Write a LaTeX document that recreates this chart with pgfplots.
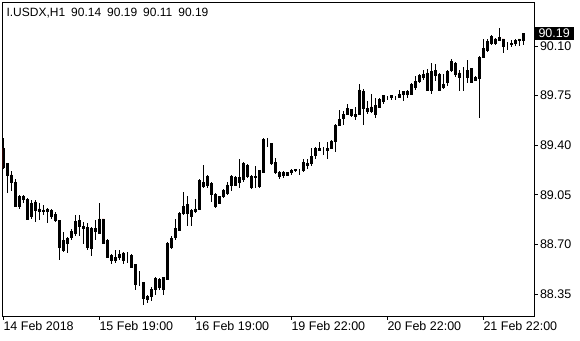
\documentclass[border=0pt]{standalone}
\usepackage{fontspec}
\setmainfont{Liberation Sans}
\usepackage{pgfplots}
\usepackage{pgfplotstable}
\pgfplotsset{compat=1.18}
\definecolor{bull}{RGB}{154,205,50}
\definecolor{bear}{RGB}{220,20,20}
\pgfplotstableread{
x O H L C
0 89.38 89.45 89.23 89.24
1 89.27 89.27 89.06 89.19
2 89.19 89.22 89.08 89.14
3 89.14 89.16 88.97 88.97
4 88.97 89.05 88.95 89.04
5 89.04 89.05 88.99 89.02
6 89.02 89.03 88.87 88.88
7 88.90 89.01 88.88 88.99
8 89.00 89.01 88.86 88.94
9 88.95 88.99 88.87 88.93
10 88.94 88.98 88.91 88.93
11 88.93 88.96 88.85 88.95
12 88.94 88.95 88.88 88.90
13 88.91 88.93 88.86 88.87
14 88.87 88.87 88.59 88.68
15 88.66 88.79 88.65 88.73
16 88.71 88.75 88.64 88.74
17 88.75 88.81 88.73 88.79
18 88.78 88.91 88.76 88.86
19 88.87 88.91 88.76 88.83
20 88.81 88.86 88.70 88.83
21 88.82 88.85 88.66 88.68
22 88.67 88.82 88.62 88.81
23 88.81 88.87 88.73 88.79
24 88.78 88.99 88.78 88.88
25 88.88 88.88 88.70 88.71
26 88.73 88.74 88.61 88.61
27 88.62 88.63 88.56 88.59
28 88.61 88.66 88.57 88.59
29 88.61 88.66 88.59 88.63
30 88.64 88.65 88.56 88.59
31 88.61 88.65 88.57 88.61
32 88.62 88.63 88.54 88.54
33 88.56 88.56 88.38 88.42
34 88.42 88.51 88.41 88.42
35 88.43 88.43 88.27 88.32
36 88.31 88.34 88.29 88.33
37 88.33 88.40 88.30 88.38
38 88.38 88.47 88.34 88.46
39 88.45 88.46 88.38 88.40
40 88.38 88.47 88.34 88.47
41 88.45 88.72 88.45 88.71
42 88.68 88.76 88.67 88.74
43 88.75 88.88 88.73 88.81
44 88.80 88.93 88.80 88.92
45 88.92 89.07 88.91 88.97
46 88.98 89.04 88.83 88.92
47 88.90 88.95 88.83 88.94
48 88.93 89.02 88.92 88.95
49 88.95 89.16 88.94 89.15
50 89.14 89.26 89.10 89.11
51 89.12 89.19 89.10 89.18
52 89.13 89.14 89.00 89.05
53 89.05 89.06 88.96 88.97
54 88.99 89.04 88.99 89.04
55 89.04 89.09 89.03 89.08
56 89.06 89.14 89.05 89.12
57 89.12 89.19 89.08 89.18
58 89.17 89.18 89.11 89.12
59 89.14 89.30 89.10 89.17
60 89.16 89.28 89.14 89.27
61 89.26 89.27 89.17 89.18
62 89.18 89.19 89.09 89.10
63 89.17 89.25 89.10 89.18
64 89.11 89.22 89.10 89.22
65 89.21 89.45 89.21 89.44
66 89.42 89.45 89.39 89.42
67 89.41 89.41 89.26 89.27
68 89.28 89.31 89.20 89.21
69 89.21 89.22 89.16 89.18
70 89.19 89.22 89.17 89.21
71 89.19 89.21 89.18 89.21
72 89.21 89.23 89.19 89.22
73 89.23 89.23 89.21 89.22
74 89.23 89.23 89.19 89.23
75 89.22 89.30 89.21 89.28
76 89.26 89.30 89.23 89.27
77 89.27 89.38 89.25 89.32
78 89.33 89.39 89.30 89.38
79 89.36 89.42 89.36 89.38
80 89.37 89.39 89.33 89.37
81 89.36 89.42 89.30 89.38
82 89.38 89.44 89.37 89.43
83 89.43 89.55 89.35 89.54
84 89.54 89.65 89.54 89.58
85 89.59 89.64 89.54 89.62
86 89.62 89.69 89.61 89.66
87 89.65 89.65 89.60 89.61
88 89.60 89.67 89.58 89.62
89 89.62 89.83 89.61 89.79
90 89.78 89.80 89.54 89.66
91 89.64 89.71 89.62 89.66
92 89.67 89.76 89.63 89.64
93 89.62 89.73 89.59 89.68
94 89.67 89.73 89.66 89.72
95 89.71 89.75 89.69 89.75
96 89.74 89.75 89.72 89.74
97 89.74 89.75 89.72 89.75
98 89.74 89.75 89.72 89.74
99 89.74 89.79 89.73 89.76
100 89.76 89.78 89.71 89.78
101 89.76 89.79 89.73 89.78
102 89.76 89.84 89.76 89.83
103 89.81 89.89 89.79 89.85
104 89.85 89.90 89.84 89.89
105 89.90 89.93 89.86 89.88
106 89.79 89.94 89.79 89.91
107 89.79 89.98 89.76 89.92
108 89.93 89.97 89.85 89.89
109 89.90 89.91 89.79 89.79
110 89.81 89.90 89.80 89.83
111 89.84 89.93 89.82 89.92
112 89.93 90.01 89.92 89.99
113 89.98 89.99 89.88 89.90
114 89.91 89.93 89.78 89.88
115 89.87 89.95 89.78 89.87
116 89.88 90.00 89.84 89.93
117 89.94 89.94 89.84 89.84
118 89.86 89.89 89.85 89.88
119 89.87 90.03 89.59 90.02
120 90.02 90.15 90.02 90.08
121 90.07 90.15 90.06 90.13
122 90.12 90.18 90.11 90.17
123 90.15 90.16 90.11 90.12
124 90.14 90.23 90.14 90.16
125 90.15 90.15 90.05 90.10
126 90.11 90.13 90.07 90.11
127 90.11 90.14 90.09 90.12
128 90.12 90.15 90.10 90.14
129 90.14 90.15 90.10 90.15
130 90.14 90.19 90.11 90.19
}\ohlc

\begin{document}
\begin{tikzpicture}
\path[use as bounding box] (-2.7pt,-24pt) rectangle (577.3pt,316pt);
\begin{axis}[
  scale only axis, width=531.6pt, height=313.5pt,
  at={(0pt,0pt)}, anchor=south west,
  xmin=-0.15, xmax=132.75, ymin=88.195, ymax=90.407,
  ybar stacked, bar width=2.3pt,
  axis line style={line width=0.9pt},
  tick align=outside, major tick length=3.5pt,
  tick style={black, line width=0.9pt},
  xtick={0,24,48,72,96,120},
  xticklabels={14 Feb 2018, 15 Feb 19:00, 16 Feb 19:00, 19 Feb 22:00, 20 Feb 22:00, 21 Feb 22:00},
  xtick pos=bottom, ytick pos=right, yticklabel pos=right,
  ytick={88.35,88.70,89.05,89.40,89.75,90.10},
  /pgf/number format/fixed, /pgf/number format/fixed zerofill,
  /pgf/number format/precision=2, /pgf/number format/assume math mode=true,
  yticklabel style={anchor=west, inner sep=0pt, xshift=2pt},
  xticklabel style={anchor=north west, inner sep=0pt, yshift=-2pt},
  every tick label/.append style={font=\fontsize{12.5}{14}\selectfont},
  extra y ticks={90.19},
  extra y tick style={major tick length=0pt,
    yticklabel style={fill=black, text=white, inner xsep=4.5pt, inner ysep=2.2pt, xshift=-2.5pt}},
]
\addplot[draw=none, fill=none,
  error bars/.cd, y dir=both, y explicit, error mark=none,
  error bar style={black, line width=1pt, solid}]
  table[x=x, y expr={min(\thisrow{O},\thisrow{C})},
        y error plus expr={\thisrow{H}-min(\thisrow{O},\thisrow{C})},
        y error minus expr={min(\thisrow{O},\thisrow{C})-\thisrow{L}}] {\ohlc};
\addplot[fill=bull, draw=black, line width=0.8pt]
  table[x=x, y expr={max(\thisrow{C}-\thisrow{O},0)}] {\ohlc};
\addplot[fill=bear, draw=black, line width=0.8pt]
  table[x=x, y expr={max(\thisrow{O}-\thisrow{C},0)}] {\ohlc};
\node[anchor=north west, inner sep=0pt, font=\fontsize{12}{14}\selectfont, xshift=3.6pt, yshift=-5.8pt]
  at (rel axis cs:0,1) {I.USDX,H1\hspace{6pt}90.14\hspace{6pt}90.19\hspace{6pt}90.11\hspace{6pt}90.19};
\end{axis}
\end{tikzpicture}
\end{document}
